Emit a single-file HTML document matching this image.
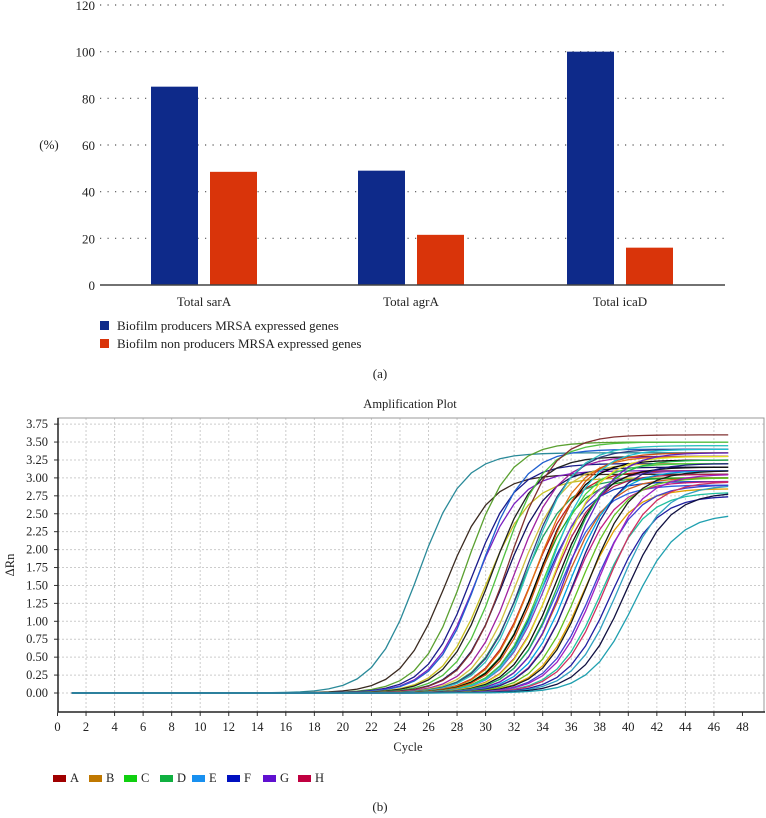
<!DOCTYPE html>
<html><head><meta charset="utf-8">
<style>
body{margin:0;background:#fff;}
svg{display:block;font-family:"Liberation Serif",serif;}
</style></head>
<body>
<svg id="fig" width="766" height="818" viewBox="0 0 766 818">
  <g id="topg"></g>
  <g id="botg"></g>
</svg>
<script>
// ---- Chart (a) data ----
const barCategories = ["Total sarA","Total agrA","Total icaD"];
const producersValues = [85, 49, 100];
const nonProducersValues = [48.5, 21.5, 16];
const barYTicks = [0,20,40,60,80,100,120];

// ---- Chart (b) data ----
const xTicks = [0,2,4,6,8,10,12,14,16,18,20,22,24,26,28,30,32,34,36,38,40,42,44,46,48];
const yTicks = [0,0.25,0.5,0.75,1,1.25,1.5,1.75,2,2.25,2.5,2.75,3,3.25,3.5,3.75];
const curveCt = [25.3,27.2,28.6,29.0,29.3,29.6,30.0,30.4,31.0,31.3,31.6,32.0,32.3,32.5,32.8,33.0,33.2,33.4,33.5,33.7,33.9,34.0,34.1,34.3,34.4,34.6,34.8,35.0,35.1,35.3,35.5,35.7,35.9,36.1,36.3,36.6,36.9,37.2,37.5,37.8,38.1,38.4,38.8,39.3,39.8,40.4];
const curvePlateau = [3.35,3.05,3.5,3.2,3.1,3.4,3.0,3.3,3.5,3.15,3.6,3.3,3.2,3.0,3.4,3.45,3.1,3.3,3.0,3.25,3.35,2.95,3.2,3.1,3.4,3.05,3.3,3.15,2.9,3.25,3.0,3.35,3.1,2.95,3.2,3.0,2.85,3.1,2.9,3.05,2.8,2.95,2.75,2.9,2.8,2.5];
const curveColors = ["#2a8a99","#3a2a20","#5aa030","#1a1a8a","#7a20c0","#2060d0","#c8c020","#202020","#50c040","#101060","#803030","#a020a0","#d0c040","#20a060","#304080","#30c0c0","#c02020","#e07010","#20a020","#000000","#d05010","#1040c0","#40d040","#8040c0","#20c0d0","#b02050","#e0e020","#101010","#3060e0","#20b050","#d06020","#6020c0","#00a0e0","#c02080","#202080","#60c020","#e0a000","#1a1a1a","#4040d0","#a020c0","#20c0a0","#d03060","#2020a0","#30a0c0","#101040","#20a0b0"];
const legendLabels = ["A","B","C","D","E","F","G","H"];
const legendColors = ["#a00000","#c07800","#10d010","#10b040","#1890f0","#0010c0","#6010d0","#c00040"];

const NS="http://www.w3.org/2000/svg";
function mk(tag,attrs,parent,text){const e=document.createElementNS(NS,tag);for(const k in attrs)e.setAttribute(k,attrs[k]);if(text!==undefined)e.textContent=text;parent.appendChild(e);return e;}

// ===== Chart (a) =====
const topG=document.getElementById('topg');
const aX0=100,aX1=725,aY0=285,aScale=280/120;
const ay=v=>aY0-v*aScale;
barYTicks.forEach(t=>{
  if(t>0){const g=mk('line',{x1:aX0,x2:aX1,y1:ay(t),y2:ay(t),stroke:'#555','stroke-width':1.2,'stroke-dasharray':'1.2 6.3'},topG);
  }
  const l=mk('text',{x:95,y:ay(t)+5,'text-anchor':'end','font-size':13,fill:'#222'},topG,String(t));
  
});
const yt=mk('text',{x:49,y:149,'text-anchor':'middle','font-size':13,fill:'#222'},topG,'(%)');

const groupCenters=[204,411,620];
barCategories.forEach((c,i)=>{
  const cx=groupCenters[i];
  const b1=mk('rect',{x:cx-53,y:ay(producersValues[i]),width:47,height:producersValues[i]*aScale,fill:'#0e2a8a'},topG);
  
  const b2=mk('rect',{x:cx+6,y:ay(nonProducersValues[i]),width:47,height:nonProducersValues[i]*aScale,fill:'#d9340a'},topG);
  
  const tl=mk('text',{x:cx,y:306,'text-anchor':'middle','font-size':13,fill:'#222'},topG,c);
  
});
const ax=mk('line',{x1:aX0,x2:aX1,y1:aY0,y2:aY0,stroke:'#444','stroke-width':1.5},topG);

[["Biofilm producers MRSA expressed genes","#0e2a8a",326],["Biofilm non producers MRSA expressed genes","#d9340a",344]].forEach((d,i)=>{
  const r=mk('rect',{x:100,y:d[2]-5,width:9,height:9,fill:d[1]},topG);
  
  const t=mk('text',{x:117,y:d[2]+4,'font-size':13,fill:'#222'},topG,d[0]);
  
});
const la=mk('text',{x:380,y:378,'text-anchor':'middle','font-size':13,fill:'#222'},topG,'(a)');


// ===== Chart (b) =====
const botG=document.getElementById('botg');
const bX0=58,bX1=765,bYT=418,bYB=712;
const bx=c=>57.5+c*14.27;
const by=v=>693-v*71.7;
const ttl=mk('text',{x:410,y:408,'text-anchor':'middle','font-size':12.5,fill:'#222'},botG,'Amplification Plot');

xTicks.forEach(t=>{
  if(t>0&&t<48){const g=mk('line',{x1:bx(t),x2:bx(t),y1:bYT,y2:bYB,stroke:'#ccc','stroke-width':1,'stroke-dasharray':'2 2'},botG);
  }
  const tk=mk('line',{x1:bx(t),x2:bx(t),y1:bYB,y2:bYB+4,stroke:'#333'},botG);
  
  const l=mk('text',{x:bx(t),y:731,'text-anchor':'middle','font-size':12.5,fill:'#222'},botG,String(t));
  
});
yTicks.forEach(t=>{
  const g=mk('line',{x1:bX0,x2:bX1,y1:by(t),y2:by(t),stroke:'#ccc','stroke-width':1,'stroke-dasharray':'2 2'},botG);
  
  const tk=mk('line',{x1:bX0-4,x2:bX0,y1:by(t),y2:by(t),stroke:'#333'},botG);
  
  const l=mk('text',{x:48,y:by(t)+4,'text-anchor':'end','font-size':12.5,fill:'#222'},botG,t.toFixed(2));
  
});
const box=mk('rect',{x:bX0,y:bYT,width:bX1-bX0-1,height:bYB-bYT,fill:'none',stroke:'#999','stroke-width':1},botG);

const axl=mk('line',{x1:bX0,x2:bX1,y1:bYB,y2:bYB,stroke:'#222','stroke-width':1.5},botG);

const ayl=mk('line',{x1:bX0,x2:bX0,y1:bYT,y2:bYB,stroke:'#222','stroke-width':1.5},botG);

const ylab=mk('text',{x:0,y:0,'text-anchor':'middle','font-size':12.5,fill:'#222',transform:'translate(14,565) rotate(-90)'},botG,'ΔRn');

const xlab=mk('text',{x:408,y:751,'text-anchor':'middle','font-size':12.5,fill:'#222'},botG,'Cycle');


const cg=mk('g',{},botG);

curveCt.forEach((ct,i)=>{
  const P=curvePlateau[i];let d='';
  for(let c=1;c<=47;c++){
    const v=P/(1+Math.exp(-(c-ct)/1.55));
    d+=(c===1?'M':'L')+bx(c).toFixed(1)+','+by(v).toFixed(1);
  }
  const p=mk('path',{d:d,fill:'none',stroke:curveColors[i%curveColors.length],'stroke-width':1.3},cg);
  
});

legendLabels.forEach((l,i)=>{
  const x=[53,89,124,160,192,227,263,298][i];
  const r=mk('rect',{x:x,y:775,width:13,height:7,fill:legendColors[i]},botG);
  
  const t=mk('text',{x:x+17,y:782,'font-size':12.5,fill:'#222'},botG,l);
  
});
const lb=mk('text',{x:380,y:811,'text-anchor':'middle','font-size':13,fill:'#222'},botG,'(b)');

</script>
</body></html>
